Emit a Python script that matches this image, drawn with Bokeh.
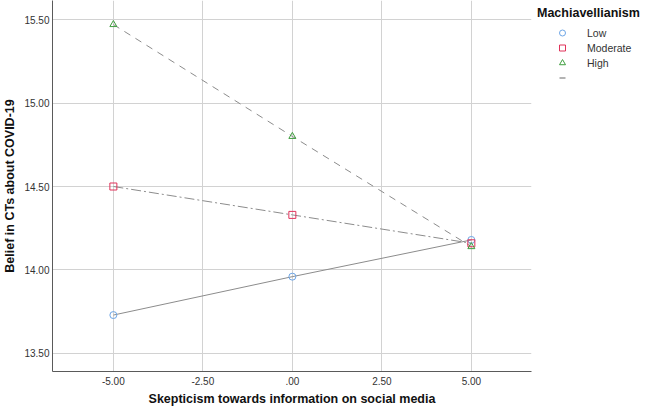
from bokeh.plotting import figure
from bokeh.models import Range1d, Legend, LegendItem, CustomJSTickFormatter, FixedTicker
from bokeh.embed import file_html
from bokeh.resources import INLINE

# Data
skepticism = [-5.0, 0.0, 5.0]
low = [13.73, 13.96, 14.18]
moderate = [14.50, 14.33, 14.16]
high = [15.47, 14.80, 14.14]
series_labels = ["Low", "Moderate", "High"]
x_ticks = [-5.0, -2.5, 0.0, 2.5, 5.0]
y_ticks = [13.5, 14.0, 14.5, 15.0, 15.5]

FONT = "Liberation Sans"

p = figure(frame_width=479, frame_height=371, output_backend="svg", toolbar_location=None,
           x_range=Range1d(-6.70, 6.68), y_range=Range1d(13.392, 15.614),
           min_border_left=45, min_border_right=0, min_border_top=0, min_border_bottom=30,
           background_fill_color="white", border_fill_color="white")
p.outline_line_color = None

fmt = CustomJSTickFormatter(code=r"var s = tick.toFixed(2); return s.replace(/^(-?)0\./, '$1.');")

p.xaxis.ticker = FixedTicker(ticks=x_ticks)
p.yaxis.ticker = FixedTicker(ticks=y_ticks)
for ax in (p.xaxis, p.yaxis):
    ax.formatter = fmt
    ax.major_tick_line_color = None
    ax.minor_tick_line_color = None
    ax.major_tick_out = 0
    ax.major_tick_in = 0
    ax.minor_tick_out = 0
    ax.minor_tick_in = 0
    ax.axis_line_color = "#5a5a5a"
    ax.axis_line_width = 1
    ax.major_label_text_font = FONT
    ax.major_label_text_font_size = "10px"
    ax.major_label_text_color = "#333333"
    ax.axis_label_text_font = FONT
    ax.axis_label_text_font_size = "12.5px"
    ax.axis_label_text_font_style = "bold"
    ax.axis_label_text_color = "#111111"

p.xaxis.axis_label = "Skepticism towards information on social media"
p.yaxis.axis_label = "Belief in CTs about COVID-19"
p.xaxis.major_label_standoff = 5
p.xaxis.axis_label_standoff = 4
p.yaxis.major_label_standoff = 3
p.yaxis.axis_label_standoff = 4

p.xgrid.grid_line_color = "#d2d2d2"
p.ygrid.grid_line_color = "#d2d2d2"

LINE = "#8c8c8c"
p.line(skepticism, low, line_color=LINE, line_width=1)
p.line(skepticism, moderate, line_color=LINE, line_width=1, line_dash="10 3 2 3")
p.line(skepticism, high, line_color=LINE, line_width=1, line_dash="7 6")

r_low = p.scatter(skepticism, low, marker="circle", size=7, line_color="#6ea6e6",
                  fill_color=None, line_width=1)
r_mod = p.scatter(skepticism, moderate, marker="square", size=7, line_color="#e0335a",
                  fill_color=None, line_width=1)
r_high = p.scatter(skepticism, high, marker="triangle", size=7, line_color="#3e9e3e",
                   fill_color=None, line_width=1)

# legend-only proxy for the fit line entry (NaN position: nothing drawn on the plot)
r_fit = p.scatter(x=[float("nan")], y=[float("nan")], marker="dash", size=7,
                  line_color="#9a9a9a", line_width=1.5)

legend = Legend(
    items=[LegendItem(label=series_labels[0], renderers=[r_low]),
           LegendItem(label=series_labels[1], renderers=[r_mod]),
           LegendItem(label=series_labels[2], renderers=[r_high]),
           LegendItem(label=" ", renderers=[r_fit])],
    title="Machiavellianism", location="top_left", orientation="vertical",
    glyph_width=50, glyph_height=15, label_height=14, spacing=0,
    label_standoff=0, padding=0, margin=6,
    border_line_color=None, background_fill_alpha=0,
    title_text_font=FONT, title_text_font_size="12.5px", title_text_font_style="bold",
    title_text_color="#111111", title_standoff=5,
    label_text_font=FONT, label_text_font_size="10.5px", label_text_color="#333333",
)
p.add_layout(legend, "right")

open("out.html", "w").write(file_html(p, INLINE))
